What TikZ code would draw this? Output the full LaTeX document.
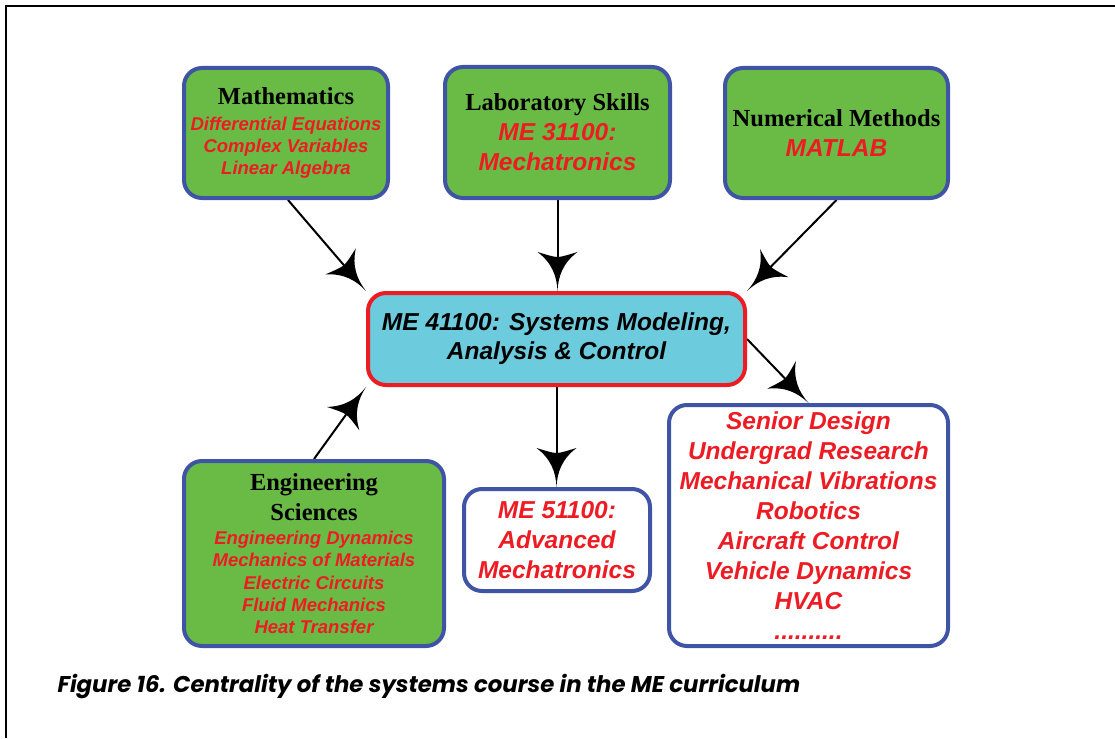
\documentclass[tikz,border=0pt]{standalone}
\usepackage{fontspec}
\setmainfont{Liberation Serif}
\setsansfont{Liberation Sans}
\newfontfamily\capfont{Poppins}
\usetikzlibrary{arrows.meta}
\definecolor{mygreen}{RGB}{106,187,69}
\definecolor{myblue}{RGB}{63,84,165}
\definecolor{myred}{RGB}{237,28,36}
\definecolor{mycyan}{RGB}{108,203,220}
\pgfdeclarelayer{background}
\pgfsetlayers{background,main}
\pgfdeclarearrow{
  name = Curvy,
  setup code = {
    \pgfarrowssettipend{0pt}
    \pgfarrowssetlineend{-28pt}
    \pgfarrowssetbackend{-39pt}
    \pgfarrowsupperhullpoint{0pt}{0pt}
    \pgfarrowsupperhullpoint{-39pt}{20pt}
  },
  drawing code = {
    \pgfpathmoveto{\pgfqpoint{0pt}{0pt}}
    \pgfpathcurveto{\pgfqpoint{-15pt}{0.7pt}}{\pgfqpoint{-28pt}{5.5pt}}{\pgfqpoint{-39pt}{20pt}}
    \pgfpathcurveto{\pgfqpoint{-36pt}{10pt}}{\pgfqpoint{-34pt}{4pt}}{\pgfqpoint{-34pt}{0pt}}
    \pgfpathcurveto{\pgfqpoint{-34pt}{-4pt}}{\pgfqpoint{-36pt}{-10pt}}{\pgfqpoint{-39pt}{-20pt}}
    \pgfpathcurveto{\pgfqpoint{-28pt}{-5.5pt}}{\pgfqpoint{-15pt}{-0.7pt}}{\pgfqpoint{0pt}{0pt}}
    \pgfpathclose
    \pgfusepathqfill
  }
}
\newcommand\tf[1][24.5]{\rmfamily\bfseries\fontsize{#1}{30}\selectfont\color{black}}
\newcommand\rs{\sffamily\bfseries\itshape\fontsize{18.5}{22.3}\selectfont\color{myred}}
\newcommand\rb{\sffamily\bfseries\itshape\fontsize{24.5}{30}\selectfont\color{myred}}
\newcommand\kb{\sffamily\bfseries\itshape\fontsize{24.5}{30}\selectfont\color{black}}
\tikzset{
  basebox/.style={line width=4pt, rounded corners=18pt, align=center, inner sep=0pt},
  gbox/.style={basebox, draw=myblue, fill=mygreen},
  wbox/.style={basebox, draw=myblue, fill=white},
  cbox/.style={basebox, draw=myred, fill=mycyan},
  arr/.style={line width=2pt, -{Curvy}},
  smallsp/.style={font=\fontsize{18.5}{22.3}\selectfont},
  largesp/.style={font=\fontsize{24.5}{30}\selectfont},
}
\begin{document}
\begin{tikzpicture}[x=1pt, y=-1pt]
\useasboundingbox (0,0) rectangle (1115,738);
\draw[line width=1.5pt] (6,738) -- (6,6) -- (1115,6);

\node[gbox, smallsp, minimum width=204pt, minimum height=130pt] (math) at (286,133)
  {\tf Mathematics\\[3.5pt]\rs Differential Equations\\\rs Complex Variables\\\rs Linear Algebra};
\node[gbox, largesp, minimum width=225pt, minimum height=131pt] (lab) at (557.5,132.5)
  {\tf Laboratory Skills\\\rb ME 31100:\\\rb Mechatronics};
\node[gbox, largesp, minimum width=223pt, minimum height=130pt] (num) at (836.5,133)
  {\tf Numerical Methods\\\rb MATLAB};
\node[cbox, font=\fontsize{24.5}{28.7}\selectfont, minimum width=377pt, minimum height=92pt] (sys) at (556.5,339)
  {\kb ME 41100: Systems Modeling,\\\kb Analysis \& Control};
\node[gbox, smallsp, minimum width=260pt, minimum height=185pt] (eng) at (314,553.5)
  {\tf Engineering\\[7pt]\tf Sciences\\[1.7pt]\rs Engineering Dynamics\\\rs Mechanics of Materials\\\rs Electric Circuits\\\rs Fluid Mechanics\\\rs Heat Transfer};
\node[wbox, largesp, minimum width=186pt, minimum height=102pt] (adv) at (557,540)
  {\rb ME 51100:\\\rb Advanced\\\rb Mechatronics};
\node[wbox, largesp, minimum width=279pt, minimum height=241pt] (apps) at (808.5,525.5)
  {\rb Senior Design\\\rb Undergrad Research\\\rb Mechanical Vibrations\\\rb Robotics\\\rb Aircraft Control\\\rb Vehicle Dynamics\\\rb HVAC\\\rb ..........};

\node[anchor=base west, font=\capfont\bfseries\itshape\fontsize{22.8}{27}\selectfont] (cap) at (54,692)
  {Figure 16. Centrality of the systems course in the ME curriculum};

\begin{pgfonlayer}{background}
\draw[arr] ([xshift=2pt]math.south) -- (sys.north west);
\draw[arr] (lab.south) -- (lab.south |- sys.north);
\draw[arr] (num.south) -- (sys.north east);
\draw[arr] (eng.north) -- (sys.south west);
\draw[arr] (sys.south) -- (sys.south |- adv.north);
\draw[arr] (sys.east) -- (apps.north);
\end{pgfonlayer}
\end{tikzpicture}
\end{document}
